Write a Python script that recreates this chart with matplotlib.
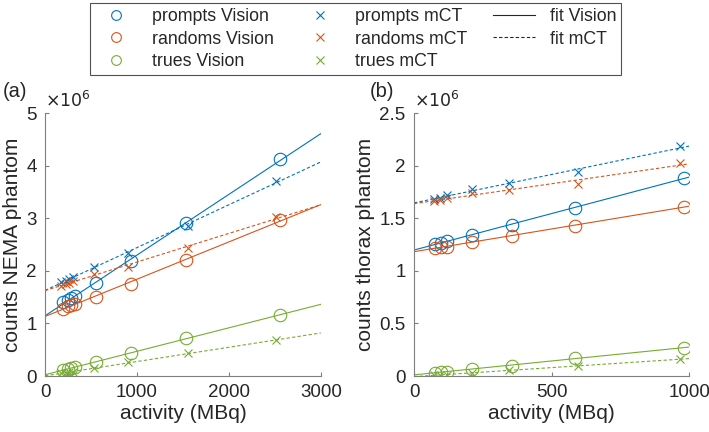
import numpy as np
import matplotlib.pyplot as plt
from matplotlib.lines import Line2D

plt.rcParams['font.family'] = ['Liberation Sans', 'DejaVu Sans']

# panel (a): NEMA phantom, counts in units of 1e6
act_vision_a = [200, 250, 280, 330, 550, 930, 1530, 2560]
act_mct_a = [170, 225, 260, 300, 530, 900, 1560, 2510]
prompts_vision_a = [1.40, 1.45, 1.48, 1.52, 1.76, 2.18, 2.90, 4.12]
randoms_vision_a = [1.28, 1.33, 1.35, 1.37, 1.50, 1.75, 2.20, 2.97]
trues_vision_a = [0.12, 0.13, 0.15, 0.17, 0.26, 0.44, 0.72, 1.16]
prompts_mct_a = [1.78, 1.81, 1.84, 1.88, 2.07, 2.33, 2.86, 3.70]
randoms_mct_a = [1.72, 1.75, 1.77, 1.80, 1.93, 2.08, 2.43, 3.02]
trues_mct_a = [0.05, 0.06, 0.07, 0.08, 0.15, 0.26, 0.43, 0.68]

# panel (b): thorax phantom
act_vision_b = [75, 97, 121, 212, 355, 585, 980]
act_mct_b = [73, 95, 121, 210, 345, 597, 965]
prompts_vision_b = [1.256, 1.269, 1.285, 1.342, 1.431, 1.596, 1.885]
randoms_vision_b = [1.22, 1.23, 1.23, 1.27, 1.33, 1.43, 1.61]
trues_vision_b = [0.032, 0.038, 0.041, 0.07, 0.098, 0.168, 0.27]
prompts_mct_b = [1.685, 1.69, 1.716, 1.777, 1.834, 1.935, 2.183]
randoms_mct_b = [1.662, 1.675, 1.69, 1.738, 1.764, 1.827, 2.024]
trues_mct_b = [0.006, 0.01, 0.013, 0.032, 0.057, 0.095, 0.159]

colors = ['#0072BD', '#D95319', '#77AC30']
names = ['prompts', 'randoms', 'trues']
axcol = '#262626'

fig = plt.figure(figsize=(7.09, 4.32), dpi=100)
ax_a = fig.add_axes([0.0635, 0.1296, 0.389, 0.6088])
ax_b = fig.add_axes([0.584, 0.1296, 0.388, 0.6088])


def draw_panel(ax, xv, xm, vision, mct, xmax, ymax, yticks, ylabel):
    xfit = np.array([0, xmax])
    for yv, ym, c in zip(vision, mct, colors):
        ax.plot(xv, yv, 'o', mfc='none', mec=c, ms=9, mew=0.8)
        ax.plot(xm, ym, 'x', color=c, ms=6, mew=0.8)
        p = np.polyfit(xv, yv, 1)
        ax.plot(xfit, np.polyval(p, xfit), '-', color=c, lw=0.8)
        p = np.polyfit(xm, ym, 1)
        ax.plot(xfit, np.polyval(p, xfit), '--', color=c, lw=0.8, dashes=(3, 2))
    ax.set_xlim(0, xmax)
    ax.set_ylim(0, ymax)
    ax.set_yticks(yticks)
    ax.set_yticklabels([('%g' % t) for t in yticks])
    ax.set_xlabel('activity (MBq)', fontsize=15, color=axcol, labelpad=2)
    ax.set_ylabel(ylabel, fontsize=15, color=axcol, labelpad=3)
    for s in ['top', 'right']:
        ax.spines[s].set_visible(False)
    for s in ['left', 'bottom']:
        ax.spines[s].set_color('#7f7f7f')
    ax.tick_params(direction='in', length=3, color='#7f7f7f', labelsize=13.5,
                   labelcolor=axcol, pad=6)
    ax.text(0, 1.01, r'$\times 10^{6}$', transform=ax.transAxes, fontsize=12.5,
            color=axcol, ha='left', va='bottom')


draw_panel(ax_a, act_vision_a, act_mct_a,
           [prompts_vision_a, randoms_vision_a, trues_vision_a],
           [prompts_mct_a, randoms_mct_a, trues_mct_a],
           3000, 5, [0, 1, 2, 3, 4, 5], 'counts NEMA phantom')
ax_a.set_xticks([0, 1000, 2000, 3000])
draw_panel(ax_b, act_vision_b, act_mct_b,
           [prompts_vision_b, randoms_vision_b, trues_vision_b],
           [prompts_mct_b, randoms_mct_b, trues_mct_b],
           1000, 2.5, [0, 0.5, 1, 1.5, 2, 2.5], 'counts thorax phantom')
ax_b.set_xticks([0, 500, 1000])

fig.text(0.004, 0.81, '(a)', fontsize=14.5, color=axcol, va='top')
fig.text(0.522, 0.81, '(b)', fontsize=14.5, color=axcol, va='top')

handles = []
labels = []
for n, c in zip(names, colors):
    handles.append(Line2D([], [], ls='none', marker='o', mfc='none', mec=c, ms=7, mew=0.8))
    labels.append(n + ' Vision')
for n, c in zip(names, colors):
    handles.append(Line2D([], [], ls='none', marker='x', color=c, ms=5.5, mew=0.8))
    labels.append(n + ' mCT')
handles.append(Line2D([], [], ls='-', color='#262626', lw=0.8))
labels.append('fit Vision')
handles.append(Line2D([], [], ls='--', color='#262626', lw=0.8, dashes=(3, 2)))
labels.append('fit mCT')

leg = fig.legend(handles, labels, ncol=3, loc='center',
                 bbox_to_anchor=(0.5014, 0.9097), fontsize=12.8, frameon=True,
                 fancybox=False, edgecolor='#262626', handlelength=2.4,
                 columnspacing=1.4, labelspacing=0.3, borderpad=0.3,
                 handletextpad=0.8)
leg.get_frame().set_linewidth(0.8)
for t in leg.get_texts():
    t.set_color(axcol)

fig.savefig('out.png', dpi=100)
